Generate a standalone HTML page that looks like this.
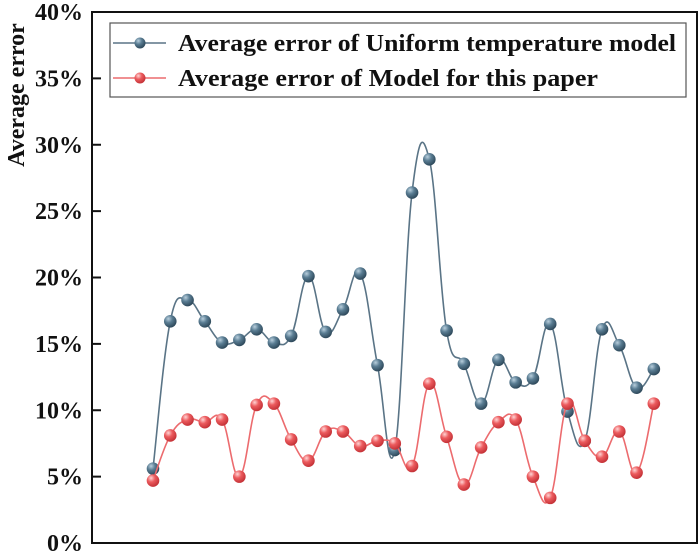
<!DOCTYPE html>
<html><head><meta charset="utf-8"><style>
html,body{margin:0;padding:0;background:#fff;}
svg{display:block;}
svg text{font-family:"Liberation Serif","Times New Roman",Times,serif !important;font-weight:bold;fill:#111;}
</style></head><body>
<svg id="chart" width="700" height="556" viewBox="0 0 700 556">
<defs>
<radialGradient id="gb" cx="0.35" cy="0.3" r="0.7"><stop offset="0" stop-color="#b9cfdd"/><stop offset="0.45" stop-color="#5a7d93"/><stop offset="1" stop-color="#2f4a5c"/></radialGradient>
<radialGradient id="gr" cx="0.35" cy="0.3" r="0.7"><stop offset="0" stop-color="#ffd4d4"/><stop offset="0.45" stop-color="#ec5b5e"/><stop offset="1" stop-color="#c53338"/></radialGradient>
</defs>
<rect x="92" y="12" width="605" height="531" fill="none" stroke="#111" stroke-width="2"/>
<g id="yaxis"></g>
<text font-family="Liberation Serif, serif" transform="translate(24,95) rotate(-90)" text-anchor="middle" font-size="24">Average error</text>
<g id="series"></g>
<g>
<rect x="110" y="23" width="576" height="74" fill="#fff" stroke="#555" stroke-width="1.2"/>
<g>
<line x1="113" y1="43" x2="166" y2="43" stroke="#5a7486" stroke-width="1.6"/>
<circle cx="140" cy="43" r="5.5" fill="url(#gb)"/>
<text font-family="Liberation Serif, serif" x="178" y="51" font-size="24" textLength="498" lengthAdjust="spacingAndGlyphs">Average error of Uniform temperature model</text>
</g>
<g>
<line x1="113" y1="78" x2="166" y2="78" stroke="#ec6b6e" stroke-width="1.6"/>
<circle cx="140" cy="78" r="5.5" fill="url(#gr)"/>
<text font-family="Liberation Serif, serif" x="178" y="86" font-size="24" textLength="420" lengthAdjust="spacingAndGlyphs">Average  error of Model for this paper</text>
</g>
</g>
</svg>
<script>
const categories = [1,2,3,4,5,6,7,8,9,10,11,12,13,14,15,16,17,18,19,20,21,22,23,24,25,26,27,28,29,30];
const uniformValues = [5.6,16.7,18.3,16.7,15.1,15.3,16.1,15.1,15.6,20.1,15.9,17.6,20.3,13.4,7.0,26.4,28.9,16.0,13.5,10.5,13.8,12.1,12.4,16.5,9.9,7.7,16.1,14.9,11.7,13.1];
const paperValues = [4.7,8.1,9.3,9.1,9.3,5.0,10.4,10.5,7.8,6.2,8.4,8.4,7.3,7.7,7.5,5.8,12.0,8.0,4.4,7.2,9.1,9.3,5.0,3.4,10.5,7.7,6.5,8.4,5.3,10.5];
const yTicks = [0,5,10,15,20,25,30,35,40];
const yTickLabels = ["0%","5%","10%","15%","20%","25%","30%","35%","40%"];

const NS = "http://www.w3.org/2000/svg";
const X0 = 153, XSTEP = 17.27, Y0 = 543, YTOP = 12, YMAX = 40;
function xScale(i){ return X0 + i * XSTEP; }
function yScale(v){ return Y0 - (v / YMAX) * (Y0 - YTOP); }

const yaxis = document.getElementById('yaxis');
yTicks.forEach((t, i) => {
  const y = yScale(t);
  const ln = document.createElementNS(NS, 'line');
  ln.setAttribute('x1', 92); ln.setAttribute('x2', 101);
  ln.setAttribute('y1', y); ln.setAttribute('y2', y);
  ln.setAttribute('stroke', '#111'); ln.setAttribute('stroke-width', '2');
  
  
  yaxis.appendChild(ln);
  const tx = document.createElementNS(NS, 'text');
  tx.setAttribute('x', 83); tx.setAttribute('y', y + 8);
  tx.setAttribute('text-anchor', 'end'); tx.setAttribute('font-size', '24');
  tx.setAttribute('font-family', 'Liberation Serif, serif');
  tx.textContent = yTickLabels[i];
  
  
  yaxis.appendChild(tx);
});

function smoothPath(pts){
  let d = 'M' + pts[0][0] + ',' + pts[0][1];
  const t = 0.2;
  for (let i = 0; i < pts.length - 1; i++) {
    const p0 = pts[Math.max(0, i - 1)], p1 = pts[i], p2 = pts[i + 1], p3 = pts[Math.min(pts.length - 1, i + 2)];
    const c1x = p1[0] + (p2[0] - p0[0]) * t, c1y = p1[1] + (p2[1] - p0[1]) * t;
    const c2x = p2[0] - (p3[0] - p1[0]) * t, c2y = p2[1] - (p3[1] - p1[1]) * t;
    d += ' C' + c1x + ',' + c1y + ' ' + c2x + ',' + c2y + ' ' + p2[0] + ',' + p2[1];
  }
  return d;
}

const g = document.getElementById('series');
function drawSeries(vals, color, grad, name){
  const pts = vals.map((v, i) => [xScale(i), yScale(v)]);
  const p = document.createElementNS(NS, 'path');
  p.setAttribute('d', smoothPath(pts));
  p.setAttribute('fill', 'none'); p.setAttribute('stroke', color); p.setAttribute('stroke-width', '1.6');
  
  
  g.appendChild(p);
  pts.forEach((pt) => {
    const c = document.createElementNS(NS, 'circle');
    c.setAttribute('cx', pt[0]); c.setAttribute('cy', pt[1]); c.setAttribute('r', 6.3);
    c.setAttribute('fill', 'url(#' + grad + ')');
    
    
    g.appendChild(c);
  });
}
drawSeries(uniformValues, '#5a7486', 'gb', 'uniform-temperature');
drawSeries(paperValues, '#ec6b6e', 'gr', 'this-paper-model');
</script>
</body></html>
